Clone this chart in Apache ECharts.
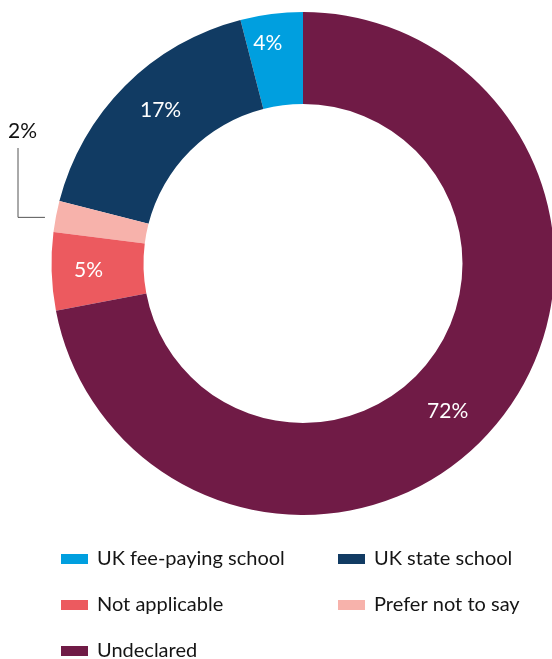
<!DOCTYPE html>
<html>
<head>
<meta charset="utf-8">
<style>
  html, body { margin: 0; padding: 0; background: #fff; }
  #chart { width: 552px; height: 659px; }
</style>
<script src="https://cdn.jsdelivr.net/npm/echarts@6/dist/echarts.min.js"></script>
</head>
<body>
<div id="chart"></div>
<script>
// School background of respondents (%), drawn anticlockwise from 12 o'clock
const categories = ['UK fee-paying school', 'UK state school', 'Prefer not to say', 'Not applicable', 'Undeclared'];
const values = [4, 17, 2, 5, 72];
const legendOrderLeft = ['UK fee-paying school', 'Not applicable', 'Undeclared'];
const legendOrderRight = ['UK state school', 'Prefer not to say'];

const colors = {
  'UK fee-paying school': '#009fdf',
  'UK state school': '#113b63',
  'Prefer not to say': '#f7b2ab',
  'Not applicable': '#ec5a5f',
  'Undeclared': '#701b46'
};
// small nudges for the in-ring percentage labels
const labelNudge = {
  'UK fee-paying school': [-9, -13],
  'UK state school': [5, -6],
  'Not applicable': [-6, 0],
  'Undeclared': [-16, 15]
};
const FONT = 'Lato, "Open Sans", sans-serif';

const chart = echarts.init(document.getElementById('chart'), null, { renderer: 'canvas' });

const pieData = categories.map((name, i) => {
  const item = { name, value: values[i], itemStyle: { color: colors[name] } };
  if (name === 'Prefer not to say') {
    item.label = { position: 'outside', color: '#111111', fontSize: 21 };
    item.labelLine = { show: true, lineStyle: { color: '#555', width: 1 } };
  } else {
    item.label = { position: 'inside', offset: labelNudge[name] };
    item.labelLine = { show: false };
  }
  return item;
});

const legendBase = {
  orient: 'vertical',
  icon: 'rect',
  itemWidth: 27,
  itemHeight: 10,
  itemGap: 22,
  height: 200,
  selectedMode: false,
  textStyle: { fontFamily: FONT, fontSize: 20, lineHeight: 24, color: '#151515', padding: [0, 0, 0, 4] }
};

chart.setOption({
  animation: false,
  legend: [
    Object.assign({}, legendBase, { data: legendOrderLeft, left: 56, top: 542 }),
    Object.assign({}, legendBase, { data: legendOrderRight, left: 333, top: 542 })
  ],
  series: [{
    type: 'pie',
    center: [303, 263.5],
    radius: [159.5, 251.5],
    startAngle: 90,
    clockwise: false,
    avoidLabelOverlap: false,
    label: {
      show: true,
      formatter: '{c}%',
      color: '#ffffff',
      fontFamily: FONT,
      fontSize: 21
    },
    labelLayout: function (params) {
      if (params.dataIndex !== categories.indexOf('Prefer not to say')) return {};
      const p0 = params.labelLinePoints ? params.labelLinePoints[0] : [56, 217];
      const startX = p0[0] - 11;
      const lineX = 18;
      return {
        x: 8,
        y: 121,
        align: 'left',
        verticalAlign: 'top',
        labelLinePoints: [[startX, p0[1] + 1], [lineX, p0[1] + 1], [lineX, 148]]
      };
    },
    data: pieData
  }]
});
</script>
</body>
</html>
